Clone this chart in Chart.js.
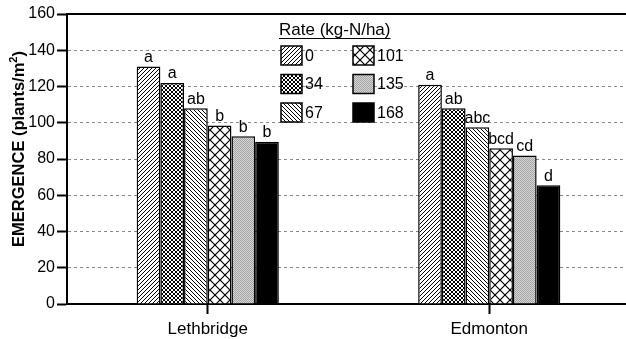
<!DOCTYPE html>
<html>
<head>
<meta charset="utf-8">
<script src="https://cdn.jsdelivr.net/npm/chart.js@4"></script>
<style>
  html, body { margin: 0; background: #fff; overflow: hidden; }
  #wrap { width: 630px; height: 339px; }
</style>
</head>
<body>
<div id="wrap"><canvas id="emergenceChart"></canvas></div>
<script>
// EMERGENCE BY SITE AND N RATE

const categories = ["Lethbridge", "Edmonton"];
const rateLabels = ["0", "34", "67", "101", "135", "168"];

const rate0 = [131, 121];
const rate34 = [122, 108];
const rate67 = [108, 97.5];
const rate101 = [98.5, 86];
const rate135 = [92.5, 82];
const rate168 = [89.5, 65.5];

const letters0 = ["a", "a"];
const letters34 = ["a", "ab"];
const letters67 = ["ab", "abc"];
const letters101 = ["b", "bcd"];
const letters135 = ["b", "cd"];
const letters168 = ["b", "d"];

const yTicks = [0, 20, 40, 60, 80, 100, 120, 140, 160];

const FONT = "'Liberation Sans', Arial, sans-serif";

// fill patterns
function tile(size, bg, draw) {
  const c = document.createElement("canvas");
  c.width = size;
  c.height = size;
  const g = c.getContext("2d");
  g.fillStyle = bg;
  g.fillRect(0, 0, size, size);
  g.strokeStyle = "#000";
  g.lineWidth = 1;
  draw(g, size);
  return g.createPattern(c, "repeat");
}

function fwd(g, s) {
  g.beginPath();
  g.moveTo(0, s); g.lineTo(s, 0);
  g.moveTo(-1, 1); g.lineTo(1, -1);
  g.moveTo(s - 1, s + 1); g.lineTo(s + 1, s - 1);
  g.stroke();
}

function back(g, s) {
  g.beginPath();
  g.moveTo(0, 0); g.lineTo(s, s);
  g.moveTo(s - 1, -1); g.lineTo(s + 1, 1);
  g.moveTo(-1, s - 1); g.lineTo(1, s + 1);
  g.stroke();
}

const fills = [
  tile(4, "#fff", fwd),
  tile(4, "#fff", (g, s) => { fwd(g, s); back(g, s); }),
  tile(4, "#fff", back),
  tile(10, "#fff", (g, s) => { g.lineWidth = 1.2; fwd(g, s); back(g, s); }),
  tile(2, "#d6d6d6", (g) => {
    g.fillStyle = "#a4a4a4";
    g.fillRect(0, 0, 1, 1);
    g.fillRect(1, 1, 1, 1);
  }),
  "#000",
];

const values = [rate0, rate34, rate67, rate101, rate135, rate168];
const letters = [letters0, letters34, letters67, letters101, letters135, letters168];

const datasets = rateLabels.map((r, i) => ({
  label: r,
  data: values[i],
  backgroundColor: fills[i],
  borderColor: "#000",
  borderWidth: 1.5,
  letters: letters[i],
}));

const letterPlugin = {
  id: "letters",
  afterDatasetsDraw(chart) {
    const ctx = chart.ctx;
    ctx.save();
    ctx.font = "16px " + FONT;
    ctx.fillStyle = "#000";
    ctx.textAlign = "center";
    ctx.textBaseline = "bottom";
    chart.data.datasets.forEach((ds, i) => {
      chart.getDatasetMeta(i).data.forEach((bar, j) => {
        ctx.fillText(ds.letters[j], bar.x, bar.y - 1);
      });
    });
    ctx.restore();
  },
};

// y title with a real superscript
const titlePlugin = {
  id: "yTitle",
  afterDraw(chart) {
    const ctx = chart.ctx;
    const main = "EMERGENCE (plants/m";
    ctx.save();
    ctx.translate(24, 149);
    ctx.rotate(-Math.PI / 2);
    ctx.fillStyle = "#000";
    ctx.textBaseline = "alphabetic";
    ctx.font = "bold 16.5px " + FONT;
    const w1 = ctx.measureText(main).width;
    const w3 = ctx.measureText(")").width;
    ctx.font = "bold 11px " + FONT;
    const w2 = ctx.measureText("2").width;
    let x = -(w1 + w2 + w3) / 2;
    ctx.font = "bold 16.5px " + FONT;
    ctx.fillText(main, x, 0);
    ctx.font = "bold 11px " + FONT;
    ctx.fillText("2", x + w1, -7);
    ctx.font = "bold 16.5px " + FONT;
    ctx.fillText(")", x + w1 + w2, 0);
    ctx.restore();
  },
};

const legendPlugin = {
  id: "rateLegend",
  afterDraw(chart) {
    const ctx = chart.ctx;
    const a = chart.chartArea;
    ctx.save();
    // top frame line
    ctx.strokeStyle = "#000";
    ctx.lineWidth = 2;
    ctx.beginPath();
    ctx.moveTo(a.left, a.top);
    ctx.lineTo(a.right, a.top);
    ctx.stroke();

    ctx.font = "17px " + FONT;
    ctx.fillStyle = "#000";
    ctx.textBaseline = "alphabetic";
    const title = "Rate (kg-N/ha)";
    ctx.fillText(title, 279, 35);
    const w = ctx.measureText(title).width;
    ctx.lineWidth = 1;
    ctx.beginPath();
    ctx.moveTo(279, 38.5);
    ctx.lineTo(279 + w, 38.5);
    ctx.stroke();

    ctx.font = "16px " + FONT;
    ctx.textBaseline = "middle";
    chart.data.datasets.forEach((ds, i) => {
      const col = Math.floor(i / 3);
      const row = i % 3;
      const x = 281 + col * 72;
      const y = 46 + row * 28.5;
      ctx.fillStyle = ds.backgroundColor;
      ctx.fillRect(x, y, 21, 19);
      ctx.strokeStyle = "#000";
      ctx.lineWidth = 1.5;
      ctx.strokeRect(x, y, 21, 19);
      ctx.fillStyle = "#000";
      ctx.fillText(ds.label, x + 24, y + 10.5);
    });
    ctx.restore();
  },
};

new Chart(document.getElementById("emergenceChart"), {
  type: "bar",
  data: {
    labels: categories,
    datasets: datasets,
  },
  options: {
    responsive: true,
    maintainAspectRatio: false,
    animation: false,
    layout: { padding: { top: 14, right: 0, left: 0, bottom: 0 } },
    datasets: {
      bar: { barPercentage: 1.0, categoryPercentage: 0.505 },
    },
    plugins: {
      legend: { display: false },
      tooltip: { enabled: false },
    },
    scales: {
      x: {
        afterFit(scale) { scale.height = 35; },
        grid: {
          offset: false,
          drawOnChartArea: false,
          tickLength: 10,
          tickWidth: 2,
          tickColor: "#000",
        },
        border: { color: "#000", width: 2 },
        ticks: { color: "#000", font: { family: FONT, size: 17 }, padding: 5 },
      },
      y: {
        min: 0,
        max: 160,
        afterFit(scale) { scale.width = 67; },
        afterBuildTicks(scale) { scale.ticks = yTicks.map((v) => ({ value: v })); },
        grid: {
          color: (c) => (c.tick && (c.tick.value === 0 || c.tick.value === 160) ? "rgba(0,0,0,0)" : "#8a8a8a"),
          lineWidth: 1,
          tickLength: 10,
          tickWidth: 2,
          tickColor: "#000",
          tickBorderDash: [],
        },
        border: { color: "#000", width: 2, dash: [3, 3] },
        ticks: { color: "#000", font: { family: FONT, size: 16 }, padding: 2 },
      },
    },
  },
  plugins: [letterPlugin, legendPlugin, titlePlugin],
});
</script>
</body>
</html>
